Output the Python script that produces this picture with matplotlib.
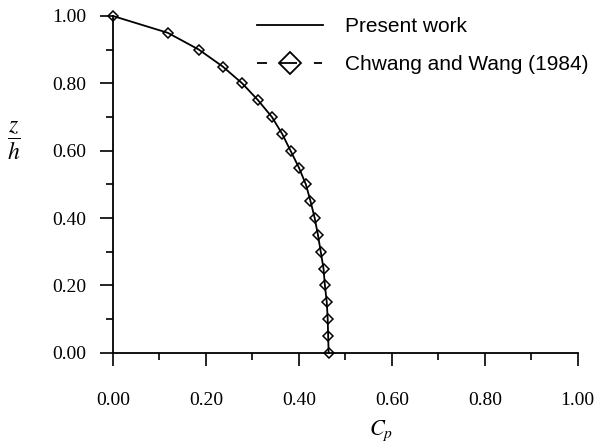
import matplotlib
matplotlib.use("Agg")
import matplotlib.pyplot as plt
from matplotlib.lines import Line2D
from matplotlib.ticker import MultipleLocator, FormatStrFormatter

plt.rcParams["font.family"] = ["Liberation Serif", "DejaVu Serif"]
plt.rcParams["mathtext.fontset"] = "stix"
plt.rcParams["lines.scale_dashes"] = False

# depth ratio z/h and pressure coefficient Cp
z_h = [1.00, 0.95, 0.90, 0.85, 0.80, 0.75, 0.70, 0.65, 0.60, 0.55, 0.50,
       0.45, 0.40, 0.35, 0.30, 0.25, 0.20, 0.15, 0.10, 0.05, 0.00]
cp_present = [0.000, 0.118, 0.185, 0.236, 0.278, 0.312, 0.342, 0.364, 0.382,
              0.400, 0.415, 0.425, 0.434, 0.441, 0.447, 0.453, 0.456, 0.460,
              0.462, 0.463, 0.464]
cp_chwang = [0.000, 0.118, 0.185, 0.236, 0.278, 0.312, 0.342, 0.364, 0.382,
             0.400, 0.415, 0.425, 0.434, 0.441, 0.447, 0.453, 0.456, 0.460,
             0.462, 0.463, 0.464]

W, H = 596, 445
fig = plt.figure(figsize=(W / 100, H / 100), dpi=100)
ax = fig.add_axes([113 / W, 1 - 352.7 / H, (577.7 - 113) / W, (352.7 - 16) / H])

ax.plot(cp_present, z_h, color="black", lw=1.3, clip_on=False, zorder=3)
ax.plot(cp_chwang, z_h, ls="none", marker="D", ms=5, mfc="none",
        mec="black", mew=1.1, clip_on=False, zorder=4)

ax.set_xlim(0, 1)
ax.set_ylim(0, 1)
for side in ("top", "right"):
    ax.spines[side].set_visible(False)
for side in ("left", "bottom"):
    ax.spines[side].set_linewidth(1.3)

ax.xaxis.set_major_locator(MultipleLocator(0.2))
ax.xaxis.set_minor_locator(MultipleLocator(0.1))
ax.yaxis.set_major_locator(MultipleLocator(0.2))
ax.yaxis.set_minor_locator(MultipleLocator(0.1))
ax.xaxis.set_major_formatter(FormatStrFormatter("%.2f"))
ax.yaxis.set_major_formatter(FormatStrFormatter("%.2f"))
ax.tick_params(which="major", direction="out", length=9.4, width=1.2,
               labelsize=14)
ax.tick_params(which="minor", direction="out", length=5, width=1.2)
ax.tick_params(axis="x", which="major", pad=19)
ax.tick_params(axis="y", which="major", pad=10)

fig.text(381.5 / W, 1 - 435 / H, r"$C_p$", fontsize=16, ha="center",
         va="baseline")
fig.text(14 / W, 1 - 141 / H, r"$\dfrac{z}{h}$", fontsize=17, ha="center",
         va="center")

handles = [
    Line2D([], [], color="black", lw=1.3),
    Line2D([], [], color="black", lw=1.3, marker="D", ms=11, mfc="none",
           mec="black", mew=1.3, dashes=(7.2, 8.6, 13, 12.2, 5.8, 72)),
]
leg = ax.legend(handles, ["Present work", "Chwang and Wang (1984)"],
                loc="upper left", bbox_to_anchor=(257 / W, 1 - 17.5 / H),
                bbox_transform=fig.transFigure, frameon=False, borderpad=0,
                borderaxespad=0, handlelength=66 * 0.72 / 15,
                handletextpad=22 * 0.72 / 15, labelspacing=0.9,
                numpoints=1, prop={"family": "Liberation Sans", "size": 15})

fig.savefig("out.png", dpi=100)
